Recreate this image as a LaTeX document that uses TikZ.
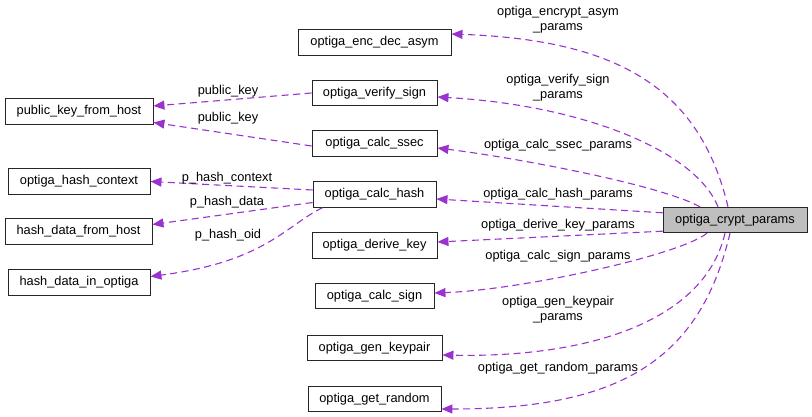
\documentclass[tikz,border=0pt]{standalone}
\usepackage{fontspec}
\setmainfont{Liberation Sans}
\usetikzlibrary{arrows.meta}
\definecolor{edgepurple}{HTML}{9A32CD}
\definecolor{boxgray}{HTML}{BFBFBF}
\begin{document}
\begin{tikzpicture}[x=1pt,y=-1pt,
  box/.style={draw=black!85,line width=0.9pt,fill=white,minimum height=25.5pt,inner sep=0pt,font=\fontsize{12.8}{14}\selectfont},
  rel/.style={draw=edgepurple,line width=1.1pt,dash pattern=on 7pt off 4.5pt,-{Triangle[length=11pt,width=9pt,fill=edgepurple]}},
  lbl/.style={align=center,inner sep=0pt,font=\fontsize{12.8}{15}\selectfont}]
\useasboundingbox (0,0) rectangle (812,417);
% nodes
\node[box,minimum width=153pt] (encdec) at (374.5,42.5) {optiga\_enc\_dec\_asym};
\node[box,minimum width=125pt] (verify) at (374.5,93) {optiga\_verify\_sign};
\node[box,minimum width=125pt] (ssec) at (374.5,143.5) {optiga\_calc\_ssec};
\node[box,minimum width=123pt] (hash) at (374.5,194.5) {optiga\_calc\_hash};
\node[box,minimum width=125pt] (derive) at (374.5,245.5) {optiga\_derive\_key};
\node[box,minimum width=119pt] (sign) at (374.5,296) {optiga\_calc\_sign};
\node[box,minimum width=135pt] (keypair) at (374.5,348) {optiga\_gen\_keypair};
\node[box,minimum width=133pt] (random) at (374.5,399) {optiga\_get\_random};
\node[box,minimum width=144pt,fill=boxgray] (crypt) at (735,220) {optiga\_crypt\_params};
\node[box,minimum width=148pt] (pkfh) at (79,111.5) {public\_key\_from\_host};
\node[box,minimum width=142pt] (hctx) at (79,181.5) {optiga\_hash\_context};
\node[box,minimum width=147pt] (hdfh) at (78.5,231.5) {hash\_data\_from\_host};
\node[box,minimum width=142pt] (hdio) at (79,282.5) {hash\_data\_in\_optiga};
% edges from crypt
\draw[rel] ([xshift=-7pt]crypt.north) .. controls +(-28,-117) and +(169,6) .. ([yshift=8.5pt]encdec.east);
\draw[rel] ([xshift=-17pt]crypt.north) .. controls +(-23,-57) and +(143,8) .. ([yshift=-4pt]verify.east);
\draw[rel] ([xshift=-35pt]crypt.north) .. controls +(-40,-22) and +(80,10) .. ([yshift=-4.5pt]ssec.east);
\draw[rel] ([yshift=-6pt]crypt.north west) -- ([yshift=-4.5pt]hash.east);
\draw[rel] ([yshift=2pt]crypt.south west) -- ([yshift=3.5pt]derive.east);
\draw[rel] ([xshift=-28pt]crypt.south) .. controls +(-27,22) and +(86,-3) .. ([yshift=3pt]sign.east);
\draw[rel] ([xshift=-10pt]crypt.south) .. controls +(-20,87) and +(148,3) .. ([yshift=-7pt]keypair.east);
\draw[rel] ([xshift=-5pt]crypt.south) .. controls +(-30,127) and +(179,0) .. ([yshift=-10pt]random.east);
% edges on the left
\draw[rel] (verify.west) -- ([yshift=5.5pt]pkfh.east);
\draw[rel] ([yshift=-2.5pt]ssec.west) -- ([yshift=-11pt]pkfh.east);
\draw[rel] ([yshift=4.5pt]hash.west) -- (hctx.east);
\draw[rel] ([yshift=-8pt]hash.west) -- ([yshift=7pt]hdfh.east);
\draw[rel] ([xshift=-52pt]hash.south) .. controls +(-37,18) and +(115,-15) .. ([yshift=6pt]hdio.east);
% labels
\node[lbl] (l1) at (558,20) {optiga\_encrypt\_asym\\\_params};
\node[lbl] (l2) at (558,88) {optiga\_verify\_sign\\\_params};
\node[lbl] (l3) at (558,145) {optiga\_calc\_ssec\_params};
\node[lbl] (l4) at (558,194) {optiga\_calc\_hash\_params};
\node[lbl] (l5) at (558,225) {optiga\_derive\_key\_params};
\node[lbl] (l6) at (558,256) {optiga\_calc\_sign\_params};
\node[lbl] (l7) at (558,310) {optiga\_gen\_keypair\\\_params};
\node[lbl] (l8) at (558,368) {optiga\_get\_random\_params};
\node[lbl] (l9) at (228,91) {public\_key};
\node[lbl] (l10) at (228,118) {public\_key};
\node[lbl] (l11) at (227,178) {p\_hash\_context};
\node[lbl] (l12) at (227,202) {p\_hash\_data};
\node[lbl] (l13) at (228,235) {p\_hash\_oid};
\end{tikzpicture}
\end{document}
